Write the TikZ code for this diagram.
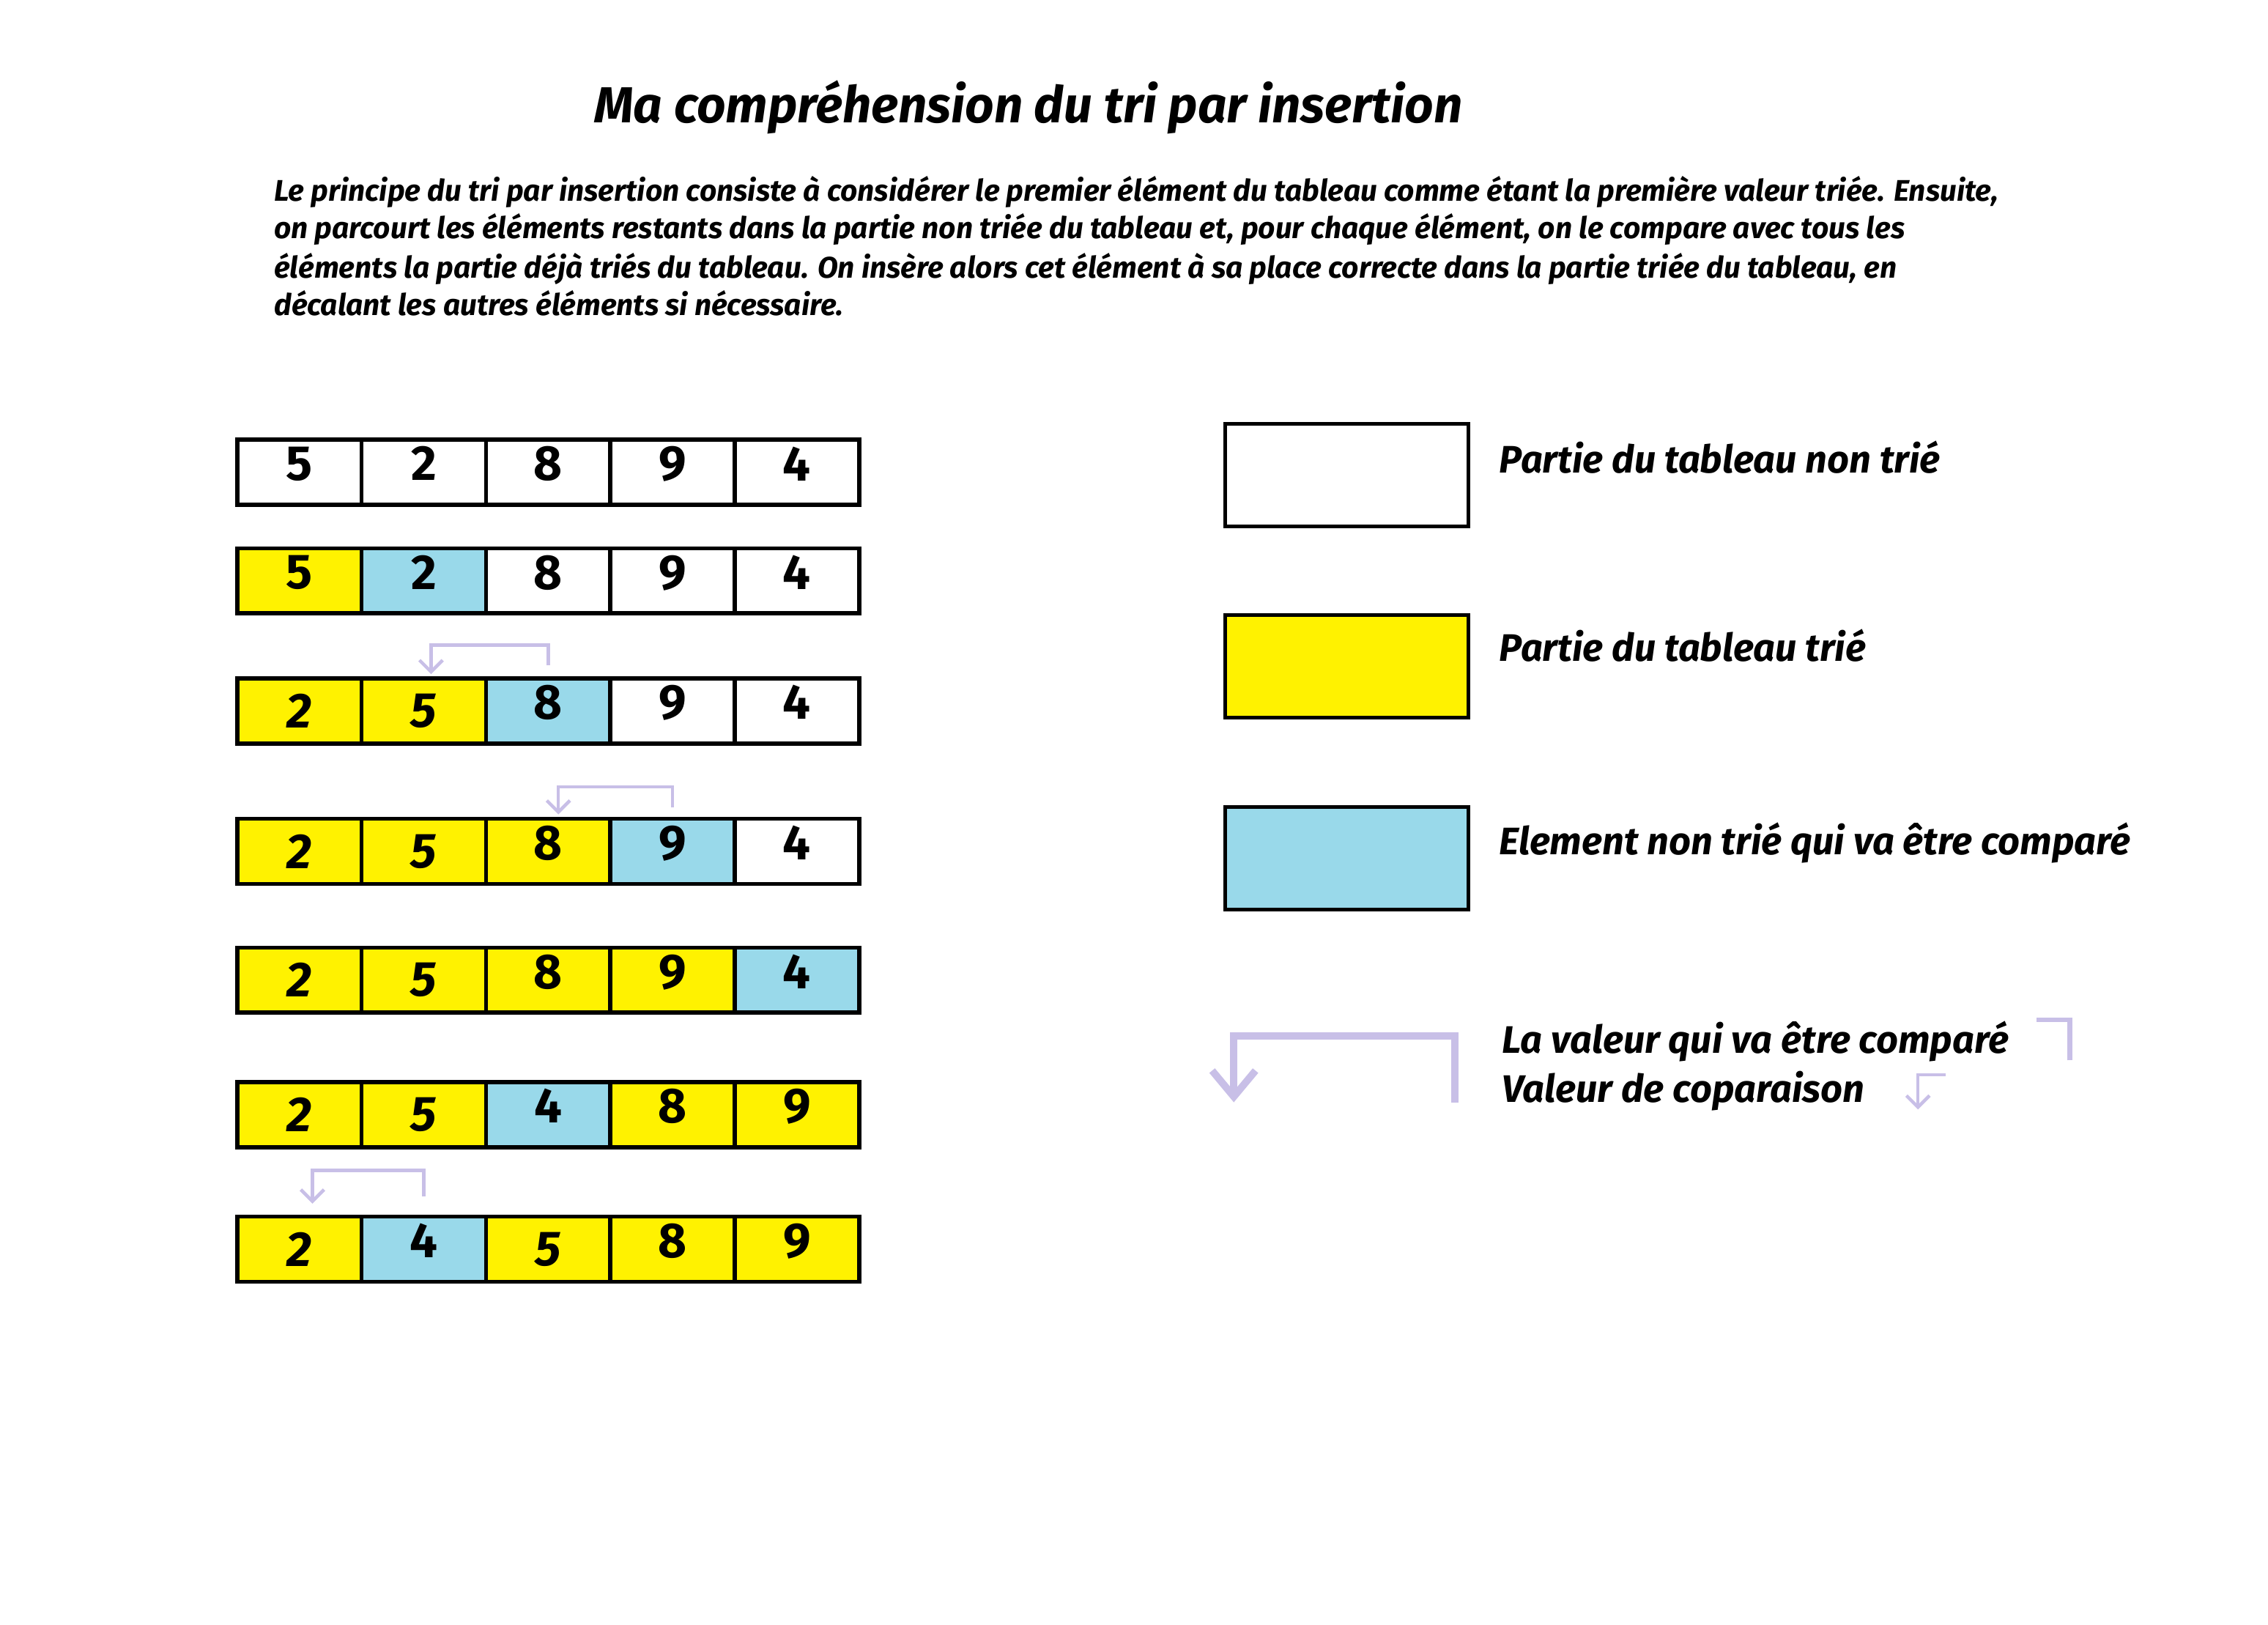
\documentclass[tikz,border=0pt]{standalone}
\usepackage{fontspec}
\setmainfont{Fira Sans}
\usetikzlibrary{arrows.meta}
\definecolor{yellowBox}{RGB}{255,242,0}
\definecolor{blueBox}{RGB}{153,217,234}
\definecolor{arrowLav}{RGB}{200,191,231}
% digit placed high (upright) or centred (slanted)
\newcommand{\digU}[1]{\raisebox{12pt}{#1}}
\newcommand{\digI}[1]{\itshape #1}

\begin{document}
\begin{tikzpicture}[x=1pt, y=-1pt,
    cell/.style={rectangle, draw, line width=2.8pt, minimum width=86pt, minimum height=45pt, inner sep=0pt, outer sep=0pt, anchor=north west, font=\fontsize{34}{34}\selectfont\bfseries},
    legbox/.style={rectangle, draw, line width=2.5pt, minimum width=168pt, minimum height=71pt, outer sep=0pt, anchor=north west},
    legtext/.style={anchor=base west, font=\fontsize{26.5}{30}\selectfont\bfseries\itshape},
    partext/.style={anchor=base west, font=\fontsize{20.6}{24}\selectfont\bfseries\itshape},
    cmp/.style={draw=arrowLav, line width=2.3pt, -{Straight Barb[length=8pt,width=16pt]}},
    cmpbig/.style={draw=arrowLav, line width=5pt, -{Straight Barb[length=18pt,width=30pt]}}
]
\useasboundingbox (0,0) rectangle (1568,1123);

\node[font=\fontsize{35}{40}\selectfont\bfseries\itshape, anchor=base] (title) at (711,85) {Ma compréhension du tri par insertion};

\node[partext] (par1) at (186,139) {Le principe du tri par insertion consiste à considérer le premier élément du tableau comme étant la première valeur triée. Ensuite,};
\node[partext] (par2) at (186,165) {on parcourt les éléments restants dans la partie non triée du tableau et, pour chaque élément, on le compare avec tous les};
\node[partext] (par3) at (186,192) {éléments la partie déjà triés du tableau. On insère alors cet élément à sa place correcte dans la partie triée du tableau, en};
\node[partext] (par4) at (186,218) {décalant les autres éléments si nécessaire.};

% the seven steps of the sort
\foreach \row/\ytop/\vals in {
    1/304/{white/5/\digU, white/2/\digU, white/8/\digU, white/9/\digU, white/4/\digU},
    2/379/{yellowBox/5/\digU, blueBox/2/\digU, white/8/\digU, white/9/\digU, white/4/\digU},
    3/469/{yellowBox/2/\digI, yellowBox/5/\digI, blueBox/8/\digU, white/9/\digU, white/4/\digU},
    4/566/{yellowBox/2/\digI, yellowBox/5/\digI, yellowBox/8/\digU, blueBox/9/\digU, white/4/\digU},
    5/655/{yellowBox/2/\digI, yellowBox/5/\digI, yellowBox/8/\digU, yellowBox/9/\digU, blueBox/4/\digU},
    6/748/{yellowBox/2/\digI, yellowBox/5/\digI, blueBox/4/\digU, yellowBox/8/\digU, yellowBox/9/\digU},
    7/841/{yellowBox/2/\digI, blueBox/4/\digU, yellowBox/5/\digI, yellowBox/8/\digU, yellowBox/9/\digU}}
  \foreach \fc/\val/\dig [count=\c] in \vals
    \node[cell, fill=\fc] (r\row c\c) at ({164+86*(\c-1)},\ytop) {\dig{\val}};

\draw[cmp] ([yshift=9pt]r3c3.north) -- ++(0pt,14pt) -| ([xshift=5pt,yshift=3pt]r3c2.north);
\draw[cmp] ([yshift=8pt]r4c4.north) -- ++(0pt,14pt) -| ([xshift=7pt,yshift=3pt]r4c3.north);
\draw[cmp] ([yshift=14pt]r7c2.north) -- ++(0pt,18pt) -| ([xshift=9pt,yshift=9pt]r7c1.north);

% legend
\node[legbox] (unsorted) at (847,293) {};
\node[legbox, fill=yellowBox] (sorted) at (847,425) {};
\node[legbox, fill=blueBox] (current) at (847,558) {};
\node[legtext] (unsortedtxt) at (1033,327) {Partie du tableau non trié};
\node[legtext] (sortedtxt) at (1033,457) {Partie du tableau trié};
\node[legtext] (currenttxt) at (1033,591) {Element non trié qui va être comparé};
\node[legtext] (comparedtxt) at (1035,728) {La valeur qui va être comparé};
\node[legtext] (keytxt) at (1035,762) {Valeur de coparaison};

\coordinate (bigfrom) at (1006,762);
\coordinate (bigto) at (853,762);
\draw[cmpbig] (bigfrom) -- ++(0pt,46pt) -| (bigto);
\coordinate (srcmark) at (1431,733);
\draw[draw=arrowLav, line width=3.5pt] (srcmark) |- ++(-23pt,28pt);
\coordinate (dstmark) at (1345,743);
\draw[cmp] (dstmark) -| ++(-19pt,-24pt);
\end{tikzpicture}
\end{document}
